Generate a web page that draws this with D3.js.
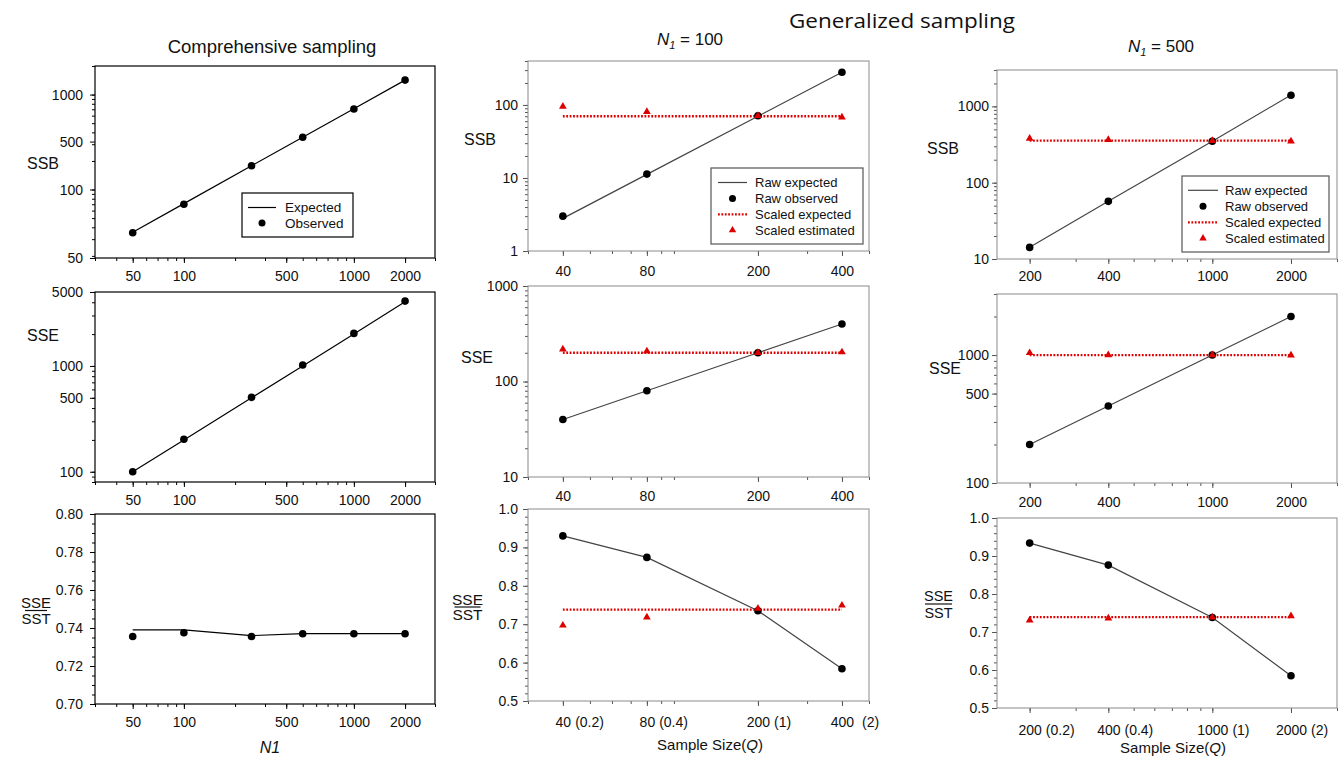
<!DOCTYPE html>
<html>
<head>
<meta charset="utf-8">
<script src="https://cdn.jsdelivr.net/npm/d3@7"></script>
<style>
body { margin: 0; background: #fff; }
svg { font-family: "Liberation Sans", Arial, sans-serif; }
</style>
</head>
<body>
<script>
//comprehensive sampling data
var compN1 = [50, 100, 250, 500, 1000, 2000];
var compSSBExpected = [35.5, 71, 178, 355, 710, 1420];
var compSSBObserved = [35, 70, 178, 355, 704, 1420];
var compSSEExpected = [100, 200, 500, 1000, 2000, 4050];
var compSSEObserved = [100, 203, 505, 1020, 2030, 4100];
var compRatioExpected = [0.739, 0.739, 0.736, 0.737, 0.737, 0.737];
var compRatioObserved = [0.7355, 0.7375, 0.7355, 0.737, 0.737, 0.737];

//tick labels of the comprehensive panels (placed as in the original figure)
var compXTicks = [50, 100, 400, 1000, 2000];
var compXTickLabels = ["50", "100", "500", "1000", "2000"];
var compSSBTicks = [19, 100, 320, 1000];
var compSSBTickLabels = ["50", "100", "500", "1000"];
var compSSETicks = [100, 500, 1000, 5000];
var compRatioTicks = [0.70, 0.72, 0.74, 0.76, 0.78, 0.80];

//generalized sampling, N1 = 100
var q100 = [40, 80, 200, 400];
var q100Ratio = ["(0.2)", "(0.4)", "(1)", "\u00a0(2)"];
var ssb100RawExpected = [2.8, 11.2, 70, 280];
var ssb100RawObserved = [3.0, 11.3, 71, 280];
var ssb100ScaledExpected = [70, 70, 70, 70];
var ssb100ScaledEstimated = [95, 81, 71, 68];
var sse100RawExpected = [40, 80, 200, 400];
var sse100RawObserved = [40, 80, 200, 400];
var sse100ScaledExpected = [200, 200, 200, 200];
var sse100ScaledEstimated = [218, 208, 200, 203];
var ratio100RawExpected = [0.930, 0.874, 0.735, 0.584];
var ratio100RawObserved = [0.930, 0.874, 0.735, 0.584];
var ratio100ScaledExpected = [0.738, 0.738, 0.738, 0.738];
var ratio100ScaledEstimated = [0.697, 0.718, 0.741, 0.749];

//generalized sampling, N1 = 500
var q500 = [200, 400, 1000, 2000];
var q500Ratio = ["(0.2)", "(0.4)", "(1)", "(2)"];
var ssb500RawExpected = [14.3, 57, 350, 1410];
var ssb500RawObserved = [14.2, 57, 350, 1400];
var ssb500ScaledExpected = [355, 355, 355, 355];
var ssb500ScaledEstimated = [380, 365, 355, 350];
var sse500RawExpected = [200, 400, 1000, 2000];
var sse500RawObserved = [200, 400, 1000, 2000];
var sse500ScaledExpected = [1000, 1000, 1000, 1000];
var sse500ScaledEstimated = [1040, 1000, 1000, 995];
var ratio500RawExpected = [0.934, 0.876, 0.738, 0.585];
var ratio500RawObserved = [0.934, 0.876, 0.738, 0.585];
var ratio500ScaledExpected = [0.739, 0.739, 0.739, 0.739];
var ratio500ScaledEstimated = [0.731, 0.736, 0.739, 0.742];

var ratioTicks = [0.5, 0.6, 0.7, 0.8, 0.9, 1.0];
var legendComp = ["Expected", "Observed"];
var legendGen = ["Raw expected", "Raw observed", "Scaled expected", "Scaled estimated"];

var FONT = '"Liberation Sans", Arial, sans-serif';
var RED = "#dd0000";

var svg = d3.select("body")
    .append("svg")
    .attr("width", 1341)
    .attr("height", 759);

//minor ticks of a log axis: 1..9 x 10^k inside the domain
function logSteps(domain){
    var out = [];
    var lo = Math.floor(Math.log10(domain[0])), hi = Math.ceil(Math.log10(domain[1]));
    for (var k = lo; k <= hi; k++){
        for (var m = 1; m < 10; m++){
            var v = m * Math.pow(10, k);
            if (v >= domain[0] * 0.999 && v <= domain[1] * 1.001) out.push(v);
        }
    }
    return out;
}

function styleAxis(sel, col, size){
    sel.attr("font-family", FONT).attr("font-size", size);
    sel.select(".domain").remove();
    sel.selectAll(".tick line").attr("stroke", col);
    sel.selectAll(".tick text").attr("fill", "#111");
}

function panel(c){
    var g = svg.append("g").attr("class", "panel");
    var x = d3.scaleLog().domain(c.xDomain).range([c.x0, c.x1]);
    var y = (c.yLog ? d3.scaleLog() : d3.scaleLinear()).domain(c.yDomain).range([c.y1, c.y0]);

    //minor ticks
    g.append("g")
        .attr("transform", "translate(0," + c.y1 + ")")
        .call(d3.axisBottom(x).tickValues(logSteps(c.xDomain)).tickSize(3).tickFormat(""))
        .call(styleAxis, c.tickColor, 10);
    g.append("g")
        .attr("transform", "translate(" + c.x0 + ",0)")
        .call(d3.axisLeft(y).tickValues(c.yLog ? logSteps(c.yDomain) : c.yMinor).tickSize(3).tickFormat(""))
        .call(styleAxis, c.tickColor, 10);

    //major ticks with labels
    var xa = g.append("g")
        .attr("transform", "translate(0," + c.y1 + ")")
        .call(d3.axisBottom(x).tickValues(c.xTicks).tickSize(5).tickPadding(c.xPad || 8)
            .tickFormat(function(d, i){ return c.xLabels[i]; }))
        .call(styleAxis, c.tickColor, 14);
    g.append("g")
        .attr("transform", "translate(" + c.x0 + ",0)")
        .call(d3.axisLeft(y).tickValues(c.yTicks).tickSize(5).tickPadding(c.yPad)
            .tickFormat(function(d, i){ return c.yLabels[i]; }))
        .call(styleAxis, c.tickColor, 14);

    //ratio part after the sample size, e.g. "40 (0.2)"
    if (c.xExtra){
        xa.selectAll(".tick").each(function(d, i){
            var t = d3.select(this).select("text");
            var w = t.node().getComputedTextLength();
            d3.select(this).append("text")
                .attr("x", w / 2 + 4)
                .attr("y", t.attr("y"))
                .attr("dy", t.attr("dy"))
                .attr("text-anchor", "start")
                .attr("fill", "#111")
                .text(c.xExtra[i]);
        });
    }

    //frame
    g.append("rect")
        .attr("x", c.x0).attr("y", c.y0)
        .attr("width", c.x1 - c.x0).attr("height", c.y1 - c.y0)
        .attr("fill", "none")
        .attr("stroke", c.frameColor)
        .attr("stroke-width", c.frameWidth);

    var line = d3.line()
        .x(function(d){ return x(d[0]); })
        .y(function(d){ return y(d[1]); });

    c.series.forEach(function(s){
        var pts = d3.zip(c.xs, s.values);
        if (s.kind === "line"){
            g.append("path").datum(pts)
                .attr("d", line).attr("fill", "none")
                .attr("stroke", s.color).attr("stroke-width", 1.2);
        } else if (s.kind === "dotted"){
            g.append("path").datum(pts)
                .attr("d", line).attr("fill", "none")
                .attr("stroke", RED).attr("stroke-width", 2.3)
                .attr("stroke-dasharray", "1.8,1.6");
        } else if (s.kind === "dots"){
            g.selectAll(null).data(pts).enter()
                .append("circle")
                .attr("cx", function(d){ return x(d[0]); })
                .attr("cy", function(d){ return y(d[1]); })
                .attr("r", 3.8).attr("fill", "#000");
        } else if (s.kind === "tri"){
            g.selectAll(null).data(pts).enter()
                .append("path")
                .attr("d", d3.symbol().type(d3.symbolTriangle).size(26))
                .attr("transform", function(d){ return "translate(" + x(d[0]) + "," + y(d[1]) + ")"; })
                .attr("fill", RED);
        }
    });

    if (c.legend) drawLegend(g, c.legend);
}

function drawLegend(g, L){
    var lg = g.append("g").attr("font-family", FONT).attr("font-size", L.fontSize);
    lg.append("rect")
        .attr("x", L.x).attr("y", L.y).attr("width", L.w).attr("height", L.h)
        .attr("fill", "#fff").attr("stroke", L.stroke).attr("stroke-width", 1.2);
    L.kinds.forEach(function(k, i){
        var cy = L.y + L.first + i * L.row;
        var cx = (L.lx0 + L.lx1) / 2;
        if (k === "line"){
            lg.append("line").attr("x1", L.lx0).attr("x2", L.lx1).attr("y1", cy).attr("y2", cy)
                .attr("stroke", L.lineColor).attr("stroke-width", 1.2);
        } else if (k === "dotted"){
            lg.append("line").attr("x1", L.lx0).attr("x2", L.lx1).attr("y1", cy).attr("y2", cy)
                .attr("stroke", RED).attr("stroke-width", 2.3).attr("stroke-dasharray", "1.8,1.6");
        } else if (k === "dots"){
            lg.append("circle").attr("cx", cx).attr("cy", cy).attr("r", 3.5).attr("fill", "#000");
        } else {
            lg.append("path").attr("d", d3.symbol().type(d3.symbolTriangle).size(24))
                .attr("transform", "translate(" + cx + "," + cy + ")").attr("fill", RED);
        }
        lg.append("text").attr("x", L.tx).attr("y", cy).attr("dy", "0.36em")
            .attr("fill", "#111").text(L.labels[i]);
    });
}

function yTitle(cx, cy, txt, size){
    svg.append("text").attr("x", cx).attr("y", cy).attr("dy", "0.36em")
        .attr("text-anchor", "middle").attr("font-size", size || 16).attr("fill", "#111")
        .text(txt);
}

function fraction(cx, top, lineY, bottom, size, halfW){
    yTitle(cx, top, "SSE", size);
    svg.append("line").attr("x1", cx - halfW).attr("x2", cx + halfW)
        .attr("y1", lineY).attr("y2", lineY).attr("stroke", "#111").attr("stroke-width", 1.2);
    yTitle(cx, bottom, "SST", size);
}

//---------- comprehensive sampling column ----------
var comp = { x0: 95, x1: 435, xDomain: [30, 3000], xs: compN1,
    xTicks: compXTicks, xLabels: compXTickLabels,
    tickColor: "#000", frameColor: "#000", frameWidth: 1.2, yPad: 7 };

panel(Object.assign({}, comp, {
    y0: 66, y1: 258, yLog: true, yDomain: [19, 2000],
    yTicks: compSSBTicks, yLabels: compSSBTickLabels,
    series: [
        { kind: "line", color: "#000", values: compSSBExpected },
        { kind: "dots", values: compSSBObserved }
    ],
    legend: { x: 242, y: 193, w: 111, h: 44, first: 14.5, row: 15.6, fontSize: 13.5,
        lx0: 248, lx1: 276, tx: 285, stroke: "#000", lineColor: "#000",
        kinds: ["line", "dots"], labels: legendComp }
}));

panel(Object.assign({}, comp, {
    y0: 292, y1: 482, yLog: true, yDomain: [80, 5000],
    yTicks: compSSETicks, yLabels: compSSETicks.map(String),
    series: [
        { kind: "line", color: "#000", values: compSSEExpected },
        { kind: "dots", values: compSSEObserved }
    ]
}));

panel(Object.assign({}, comp, {
    y0: 514, y1: 704, yLog: false, yDomain: [0.70, 0.80],
    yTicks: compRatioTicks, yLabels: compRatioTicks.map(d3.format(".2f")),
    yMinor: d3.range(0.70, 0.8001, 0.005),
    series: [
        { kind: "line", color: "#000", values: compRatioExpected },
        { kind: "dots", values: compRatioObserved }
    ]
}));

//---------- generalized sampling, N1 = 100 ----------
var mid = { x0: 528, x1: 869, xDomain: [30, 500], xs: q100,
    xTicks: q100, xLabels: q100.map(String),
    tickColor: "#555", frameColor: "#8a8a8a", frameWidth: 1, yPad: 5 };

panel(Object.assign({}, mid, {
    y0: 61, y1: 251, yLog: true, yDomain: [1, 400],
    yTicks: [1, 10, 100], yLabels: ["1", "10", "100"], xPad: 10,
    series: [
        { kind: "line", color: "#444", values: ssb100RawExpected },
        { kind: "dotted", values: ssb100ScaledExpected },
        { kind: "dots", values: ssb100RawObserved },
        { kind: "tri", values: ssb100ScaledEstimated }
    ],
    legend: { x: 711, y: 168, w: 152, h: 76, first: 14.5, row: 15.9, fontSize: 13,
        lx0: 718, lx1: 747, tx: 755, stroke: "#555", lineColor: "#444",
        kinds: ["line", "dots", "dotted", "tri"], labels: legendGen }
}));

panel(Object.assign({}, mid, {
    y0: 286, y1: 477, yLog: true, yDomain: [10, 1000],
    yTicks: [10, 100, 1000], yLabels: ["10", "100", "1000"], xPad: 9,
    series: [
        { kind: "line", color: "#444", values: sse100RawExpected },
        { kind: "dotted", values: sse100ScaledExpected },
        { kind: "dots", values: sse100RawObserved },
        { kind: "tri", values: sse100ScaledEstimated }
    ]
}));

panel(Object.assign({}, mid, {
    y0: 509, y1: 701, yLog: false, yDomain: [0.5, 1.0],
    yTicks: ratioTicks, yLabels: ratioTicks.map(d3.format(".1f")),
    yMinor: d3.range(0.5, 1.0001, 0.02), xPad: 11, xExtra: q100Ratio,
    series: [
        { kind: "line", color: "#444", values: ratio100RawExpected },
        { kind: "dotted", values: ratio100ScaledExpected },
        { kind: "dots", values: ratio100RawObserved },
        { kind: "tri", values: ratio100ScaledEstimated }
    ]
}));

//---------- generalized sampling, N1 = 500 ----------
var right = { x0: 997, x1: 1337, xDomain: [150, 3000], xs: q500,
    xTicks: q500, xLabels: q500.map(String),
    tickColor: "#555", frameColor: "#8a8a8a", frameWidth: 1, yPad: 3 };

panel(Object.assign({}, right, {
    y0: 70, y1: 259, yLog: true, yDomain: [10, 3000],
    yTicks: [10, 100, 1000], yLabels: ["10", "100", "1000"], xPad: 7,
    series: [
        { kind: "line", color: "#444", values: ssb500RawExpected },
        { kind: "dotted", values: ssb500ScaledExpected },
        { kind: "dots", values: ssb500RawObserved },
        { kind: "tri", values: ssb500ScaledEstimated }
    ],
    legend: { x: 1182, y: 176, w: 147, h: 76, first: 14.3, row: 16, fontSize: 13,
        lx0: 1188, lx1: 1218, tx: 1225, stroke: "#555", lineColor: "#444",
        kinds: ["line", "dots", "dotted", "tri"], labels: legendGen }
}));

panel(Object.assign({}, right, {
    y0: 294, y1: 483, yLog: true, yDomain: [100, 3000],
    yTicks: [100, 500, 1000], yLabels: ["100", "500", "1000"], xPad: 9,
    series: [
        { kind: "line", color: "#444", values: sse500RawExpected },
        { kind: "dotted", values: sse500ScaledExpected },
        { kind: "dots", values: sse500RawObserved },
        { kind: "tri", values: sse500ScaledEstimated }
    ]
}));

panel(Object.assign({}, right, {
    y0: 518, y1: 708, yLog: false, yDomain: [0.5, 1.0],
    yTicks: ratioTicks, yLabels: ratioTicks.map(d3.format(".1f")),
    yMinor: d3.range(0.5, 1.0001, 0.02), xPad: 12, xExtra: q500Ratio,
    series: [
        { kind: "line", color: "#444", values: ratio500RawExpected },
        { kind: "dotted", values: ratio500ScaledExpected },
        { kind: "dots", values: ratio500RawObserved },
        { kind: "tri", values: ratio500ScaledEstimated }
    ]
}));

//---------- titles and axis names ----------
svg.append("text").attr("x", 272).attr("y", 53).attr("text-anchor", "middle")
    .attr("font-size", 18.5).attr("fill", "#111").text("Comprehensive sampling");

svg.append("text").attr("x", 902).attr("y", 28).attr("text-anchor", "middle")
    .attr("font-family", '"Open Sans", "Noto Sans", sans-serif')
    .attr("font-size", 20).attr("fill", "#111")
    .attr("textLength", 226).attr("lengthAdjust", "spacingAndGlyphs")
    .text("Generalized sampling");

function n1Title(cx, base, val){
    var t = svg.append("text").attr("x", cx).attr("y", base).attr("text-anchor", "middle")
        .attr("font-size", 17).attr("fill", "#111");
    t.append("tspan").attr("font-style", "italic").text("N");
    t.append("tspan").attr("font-style", "italic").attr("font-size", 11).attr("dy", 4).text("1");
    t.append("tspan").attr("dy", -4).text(" = " + val);
}
n1Title(690, 45, "100");
n1Title(1161, 51.5, "500");

yTitle(43, 163, "SSB");
yTitle(43, 335, "SSE");
fraction(36, 603, 610.5, 619, 15, 11);

yTitle(480, 139, "SSB");
yTitle(477, 357, "SSE");
fraction(467.5, 599.5, 607, 614.5, 15.5, 13);

yTitle(943, 148, "SSB");
yTitle(945, 368, "SSE");
fraction(938.5, 596, 604, 613, 14.5, 13.5);

svg.append("text").attr("x", 270).attr("y", 747).attr("dy", "0.36em")
    .attr("text-anchor", "middle").attr("font-size", 16).attr("fill", "#111")
    .attr("font-style", "italic").text("N1");

function sampleLabel(cx, cy){
    var t = svg.append("text").attr("x", cx).attr("y", cy).attr("dy", "0.36em")
        .attr("text-anchor", "middle").attr("font-size", 15).attr("fill", "#111");
    t.append("tspan").text("Sample Size(");
    t.append("tspan").attr("font-style", "italic").text("Q");
    t.append("tspan").text(")");
}
sampleLabel(710, 745);
sampleLabel(1173, 748);
</script>
</body>
</html>
